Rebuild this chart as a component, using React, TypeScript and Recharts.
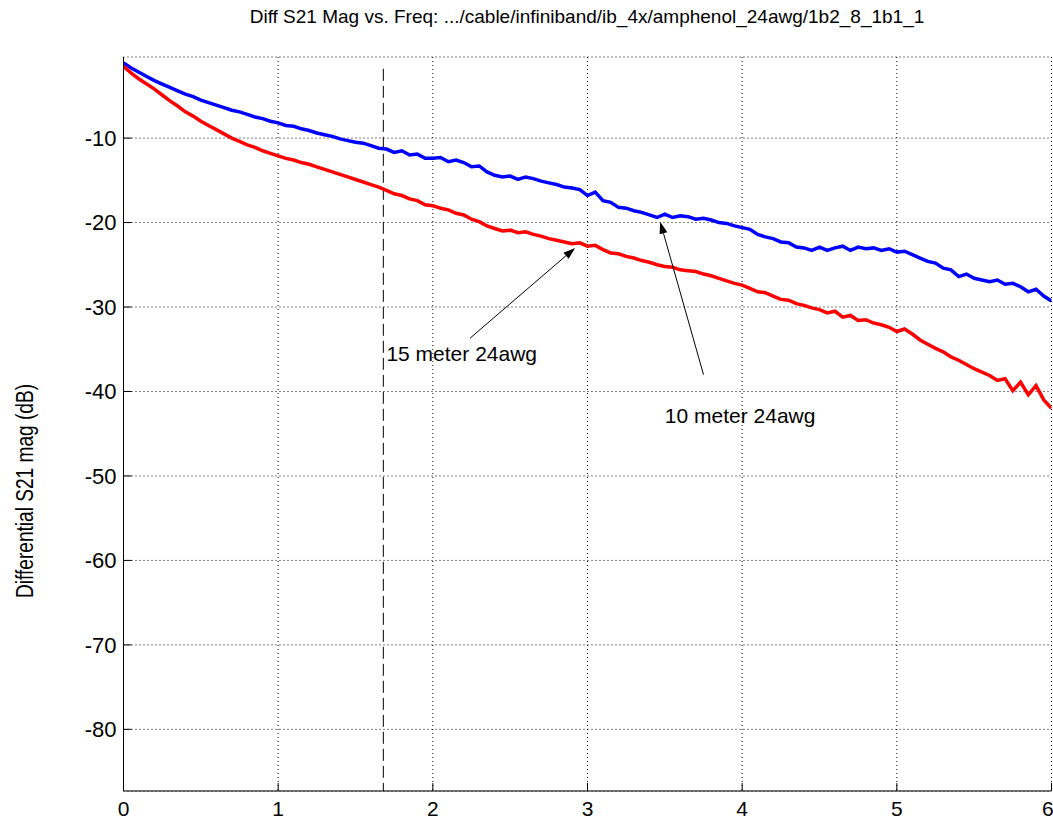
import React from 'react';
import {
  LineChart,
  Line,
  XAxis,
  YAxis,
  CartesianGrid,
  ReferenceLine,
  ReferenceDot,
} from 'recharts';

// frequency (GHz)
const freq = [
  0, 0.05, 0.1, 0.15, 0.2, 0.25, 0.3, 0.35, 0.4, 0.45,
  0.5, 0.55, 0.6, 0.65, 0.7, 0.75, 0.8, 0.85, 0.9, 0.95,
  1, 1.05, 1.1, 1.15, 1.2, 1.25, 1.3, 1.35, 1.4, 1.45,
  1.5, 1.55, 1.6, 1.65, 1.7, 1.75, 1.8, 1.85, 1.9, 1.95,
  2, 2.05, 2.1, 2.15, 2.2, 2.25, 2.3, 2.35, 2.4, 2.45,
  2.5, 2.55, 2.6, 2.65, 2.7, 2.75, 2.8, 2.85, 2.9, 2.95,
  3, 3.05, 3.1, 3.15, 3.2, 3.25, 3.3, 3.35, 3.4, 3.45,
  3.5, 3.55, 3.6, 3.65, 3.7, 3.75, 3.8, 3.85, 3.9, 3.95,
  4, 4.05, 4.1, 4.15, 4.2, 4.25, 4.3, 4.35, 4.4, 4.45,
  4.5, 4.55, 4.6, 4.65, 4.7, 4.75, 4.8, 4.85, 4.9, 4.95,
  5, 5.05, 5.1, 5.15, 5.2, 5.25, 5.3, 5.35, 5.4, 5.45,
  5.5, 5.55, 5.6, 5.65, 5.7, 5.75, 5.8, 5.85, 5.9, 5.95,
  6,
];

// 10 meter 24awg (blue)
const s21_10m = [
  -1.1, -1.7, -2.2, -2.7, -3.2, -3.6, -4.0, -4.4, -4.8, -5.1,
  -5.5, -5.8, -6.1, -6.4, -6.7, -6.9, -7.2, -7.5, -7.7, -8.0,
  -8.2, -8.5, -8.6, -8.9, -9.1, -9.4, -9.6, -9.8, -10.1, -10.3,
  -10.5, -10.6, -10.9, -11.2, -11.3, -11.7, -11.5, -12.0, -11.9, -12.4,
  -12.4, -12.3, -12.8, -12.6, -12.9, -13.4, -13.3, -14.0, -14.4, -14.6,
  -14.5, -14.9, -14.6, -14.8, -15.1, -15.3, -15.5, -15.8, -15.9, -16.1,
  -16.8, -16.4, -17.4, -17.6, -18.2, -18.3, -18.6, -18.8, -19.1, -19.4,
  -19.0, -19.4, -19.2, -19.3, -19.6, -19.5, -19.7, -20.0, -20.1, -20.4,
  -20.6, -20.8, -21.4, -21.7, -21.9, -22.3, -22.4, -22.9, -23.0, -23.3,
  -22.9, -23.3, -23.0, -22.8, -23.3, -22.9, -23.1, -23.0, -23.3, -23.1,
  -23.5, -23.4, -23.8, -24.2, -24.6, -24.8, -25.4, -25.6, -26.4, -26.1,
  -26.6, -26.8, -27.0, -26.8, -27.3, -27.2, -27.6, -28.2, -27.9, -28.7,
  -29.3,
];

// 15 meter 24awg (red)
const s21_15m = [
  -1.5, -2.3, -3.0, -3.6, -4.2, -4.9, -5.6, -6.2, -6.9, -7.4,
  -8.0, -8.5, -9.0, -9.5, -10.0, -10.4, -10.8, -11.1, -11.5, -11.8,
  -12.1, -12.4, -12.6, -12.9, -13.1, -13.4, -13.7, -14.0, -14.3, -14.6,
  -14.9, -15.2, -15.5, -15.8, -16.2, -16.6, -16.8, -17.2, -17.4, -17.9,
  -18.0, -18.3, -18.5, -18.9, -19.1, -19.6, -19.9, -20.4, -20.7, -21.0,
  -20.9, -21.2, -21.1, -21.4, -21.6, -21.9, -22.1, -22.3, -22.5, -22.4,
  -22.8, -22.7, -23.2, -23.6, -23.7, -24.0, -24.2, -24.5, -24.7, -25.0,
  -25.2, -25.3, -25.6, -25.7, -25.8, -26.1, -26.3, -26.6, -26.9, -27.2,
  -27.4, -27.8, -28.2, -28.3, -28.7, -29.1, -29.2, -29.6, -29.8, -30.1,
  -30.3, -30.7, -30.5, -31.2, -31.0, -31.6, -31.5, -31.9, -32.1, -32.4,
  -32.9, -32.6, -33.2, -33.9, -34.4, -34.9, -35.3, -35.9, -36.3, -36.8,
  -37.3, -37.7, -38.1, -38.7, -38.5, -39.9, -38.9, -40.4, -39.3, -41.0,
  -42.0,
];

const xTicks = [0, 1, 2, 3, 4, 5, 6];
const yTicks = [-80, -70, -60, -50, -40, -30, -20, -10];
const markerFreq = 1.68;

// annotations: [tailX, tailY, tipX, tipY]
const arrow15m = [2.24, -33.7, 2.92, -23.0];
const arrow10m = [3.75, -38.0, 3.47, -19.9];
const label15m = { x: 1.7, y: -35.5, text: '15 meter 24awg' };
const label10m = { x: 3.5, y: -42.8, text: '10 meter 24awg' };

const data = freq.map((f, i) => ({ f, a: s21_10m[i], b: s21_15m[i] }));

const FONT = '"Liberation Sans", Arial, Helvetica, sans-serif';

const Arrow = (p: any) => {
  const { x1, y1, x2, y2 } = p;
  const ang = Math.atan2(y2 - y1, x2 - x1);
  const len = 12;
  const w = 4;
  const bx = x2 - len * Math.cos(ang);
  const by = y2 - len * Math.sin(ang);
  const px = -Math.sin(ang) * w;
  const py = Math.cos(ang) * w;
  return (
    <g>
      <line x1={x1} y1={y1} x2={bx} y2={by} stroke="#000" strokeWidth={1} />
      <polygon points={`${x2},${y2} ${bx + px},${by + py} ${bx - px},${by - py}`} fill="#000" />
    </g>
  );
};

const Note = (text: string) => (p: any) => (
  <text x={p.cx} y={p.cy} dy="0.36em" fontSize={21} fontFamily={FONT} fill="#000">
    {text}
  </text>
);

const TopTick = (p: any) => <line x1={p.x} y1={p.y - 8} x2={p.x} y2={p.y} stroke="#000" />;
const RightTick = (p: any) => <line x1={p.x} y1={p.y} x2={p.x + 8} y2={p.y} stroke="#000" />;

export default function App() {
  return (
    <div style={{ position: 'absolute', left: 0, top: 0, width: 1053, height: 822, background: '#fff', fontFamily: FONT }}>
      <div
        style={{
          position: 'absolute',
          top: 6,
          left: 123,
          width: 928,
          textAlign: 'center',
          fontSize: 19,
          color: '#000',
        }}
      >
        Diff S21 Mag vs. Freq: .../cable/infiniband/ib_4x/amphenol_24awg/1b2_8_1b1_1
      </div>
      <LineChart
        width={1053}
        height={822}
        data={data}
        margin={{ top: 57, right: 1.5, left: 43.5, bottom: 1 }}
      >
        <CartesianGrid stroke="#000" strokeDasharray="1 3" horizontal vertical />
        <XAxis
          dataKey="f"
          type="number"
          domain={[0, 6]}
          ticks={xTicks}
          allowDataOverflow
          height={30}
          stroke="#000"
          tickSize={-8}
          tickMargin={18}
          tick={{ fill: '#000', fontSize: 21, fontFamily: FONT }}
        />
        <XAxis
          xAxisId="top"
          orientation="top"
          dataKey="f"
          type="number"
          domain={[0, 6]}
          ticks={xTicks}
          height={0}
          stroke="#000"
          tickSize={-8}
          tickMargin={0}
          tick={TopTick}
          tickLine={false}
        />
        <YAxis
          type="number"
          domain={[-87.3, -0.4]}
          ticks={yTicks}
          allowDataOverflow
          width={80}
          stroke="#000"
          tickSize={-8}
          tickMargin={15}
          tick={{ fill: '#000', fontSize: 22, fontFamily: FONT }}
          label={{
            content: (props: any) => {
              const vb = props.viewBox;
              const cy = vb.y + vb.height / 2 + 67;
              return (
                <text
                  x={33}
                  y={cy}
                  transform={`rotate(-90, 33, ${cy})`}
                  textAnchor="middle"
                  fontSize={23}
                  textLength={214}
                  lengthAdjust="spacingAndGlyphs"
                  fontFamily={FONT}
                  fill="#000"
                >
                  Differential S21 mag (dB)
                </text>
              );
            },
          }}
        />
        <YAxis
          yAxisId="right"
          orientation="right"
          type="number"
          domain={[-87.3, -0.4]}
          ticks={yTicks}
          width={0}
          stroke="#000"
          tickSize={-8}
          tickMargin={0}
          tick={RightTick}
          tickLine={false}
        />
        <ReferenceLine
          segment={[
            { x: markerFreq, y: -1.8 },
            { x: markerFreq, y: -87.3 },
          ]}
          stroke="#000"
          strokeDasharray="12 5"
        />
        <Line
          dataKey="a"
          stroke="#0000ff"
          strokeWidth={3.5}
          dot={false}
          isAnimationActive={false}
        />
        <Line
          dataKey="b"
          stroke="#ff0000"
          strokeWidth={3.5}
          dot={false}
          isAnimationActive={false}
        />
        <ReferenceLine
          segment={[
            { x: arrow15m[0], y: arrow15m[1] },
            { x: arrow15m[2], y: arrow15m[3] },
          ]}
          shape={Arrow}
        />
        <ReferenceLine
          segment={[
            { x: arrow10m[0], y: arrow10m[1] },
            { x: arrow10m[2], y: arrow10m[3] },
          ]}
          shape={Arrow}
        />
        <ReferenceDot x={label15m.x} y={label15m.y} r={0} shape={Note(label15m.text)} />
        <ReferenceDot x={label10m.x} y={label10m.y} r={0} shape={Note(label10m.text)} />
      </LineChart>
    </div>
  );
}
